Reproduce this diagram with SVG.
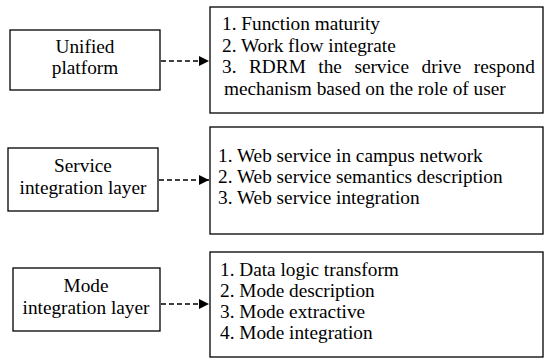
<svg xmlns="http://www.w3.org/2000/svg" width="545" height="358" viewBox="0 0 545 358">
<style>
.box{fill:#fff;stroke:#000;stroke-width:1.3}
.t{font-family:'Liberation Serif',Tinos,'Times New Roman','DejaVu Serif',serif;font-size:19.3px;fill:#000}
.c{text-anchor:middle}
.conn{stroke:#000;stroke-width:1.5;stroke-dasharray:5,3;fill:none}
</style>
<defs>
<marker id="ah" markerWidth="10" markerHeight="10" refX="10" refY="5" orient="auto" markerUnits="userSpaceOnUse">
<path d="M0,0 L10,5 L0,10 Z" fill="#000"/>
</marker>
</defs>
<rect width="545" height="358" fill="#fff"/>
<g id="unified-platform">
<rect class="box" x="10" y="30" width="150" height="60"/>
<text class="t c" x="85" y="53">Unified</text>
<text class="t c" x="85" y="74">platform</text>
</g>
<g id="platform-items">
<rect class="box" x="210" y="7" width="333" height="106"/>
<text class="t" x="222" y="30">1. Function maturity</text>
<text class="t" x="222" y="52">2. Work flow integrate</text>
<text class="t" y="73"><tspan x="222">3.</tspan><tspan x="249">RDRM</tspan><tspan x="318.3">the</tspan><tspan x="354.4">service</tspan><tspan x="421.6">drive</tspan><tspan x="473.8">respond</tspan></text>
<text class="t" x="224" y="95">mechanism based on the role of user</text>
</g>
<g id="service-layer">
<rect class="box" x="8" y="148" width="150" height="63"/>
<text class="t c" x="83" y="172">Service</text>
<text class="t c" x="83" y="194">integration layer</text>
</g>
<g id="service-items">
<rect class="box" x="210" y="127" width="333" height="107"/>
<text class="t" x="218" y="162">1. Web service in campus network</text>
<text class="t" x="218" y="183">2. Web service semantics description</text>
<text class="t" x="218" y="204">3. Web service integration</text>
</g>
<g id="mode-layer">
<rect class="box" x="13" y="268" width="147" height="63"/>
<text class="t c" x="86" y="292">Mode</text>
<text class="t c" x="86" y="314">integration layer</text>
</g>
<g id="mode-items">
<rect class="box" x="210" y="252" width="333" height="105"/>
<text class="t" x="220" y="276">1. Data logic transform</text>
<text class="t" x="220" y="297">2. Mode description</text>
<text class="t" x="220" y="318">3. Mode extractive</text>
<text class="t" x="220" y="339">4. Mode integration</text>
</g>
<g id="connectors">
<line class="conn" x1="161" y1="61" x2="209" y2="61" marker-end="url(#ah)"/>
<line class="conn" x1="159" y1="180" x2="209" y2="180" marker-end="url(#ah)"/>
<line class="conn" x1="161" y1="304" x2="209" y2="304" marker-end="url(#ah)"/>
</g>
</svg>
